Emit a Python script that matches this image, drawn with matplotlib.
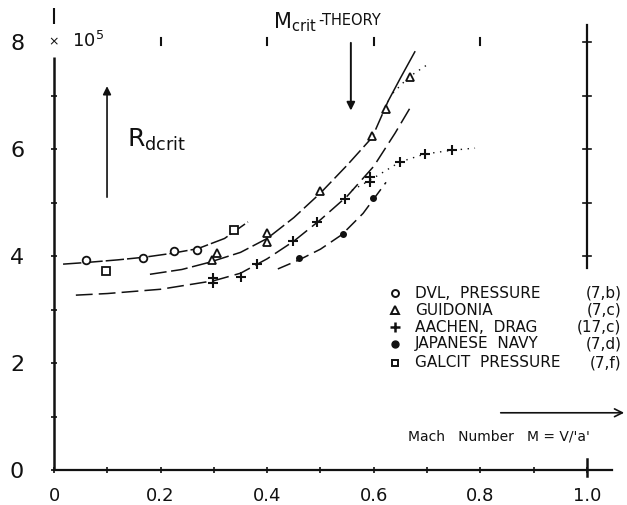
import matplotlib
matplotlib.use("Agg")
import matplotlib.pyplot as plt

# ---- data (Mach number, R_dcrit in 1e5) ----
dvl_m = [0.060, 0.167, 0.225, 0.268]
dvl_r = [3.93, 3.96, 4.09, 4.11]
gui_m = [0.296, 0.306, 0.400, 0.400, 0.500, 0.597, 0.623, 0.668]
gui_r = [3.93, 4.06, 4.43, 4.26, 5.21, 6.24, 6.75, 7.35]
aac_m = [0.298, 0.298, 0.351, 0.381, 0.448, 0.493, 0.546, 0.593, 0.593, 0.649, 0.696, 0.747]
aac_r = [3.59, 3.50, 3.61, 3.85, 4.28, 4.64, 5.07, 5.48, 5.39, 5.76, 5.91, 5.98]
jap_m = [0.460, 0.542, 0.599]
jap_r = [3.96, 4.41, 5.08]
gal_m = [0.098, 0.338]
gal_r = [3.72, 4.49]

# hand-drawn fitted curves
c_dvl_m = [0.017, 0.06, 0.12, 0.17, 0.22, 0.27, 0.32, 0.364]
c_dvl_r = [3.85, 3.88, 3.93, 3.98, 4.05, 4.14, 4.33, 4.64]
c_gui_m = [0.18, 0.24, 0.29, 0.35, 0.40, 0.45, 0.50, 0.55, 0.597, 0.627]
c_gui_r = [3.66, 3.75, 3.88, 4.07, 4.33, 4.72, 5.18, 5.70, 6.22, 6.90]
c_gui2_m = [0.627, 0.65, 0.677]
c_gui2_r = [6.90, 7.33, 7.82]
c_aac_m = [0.041, 0.10, 0.20, 0.30, 0.35, 0.40, 0.45, 0.50, 0.55, 0.60, 0.64, 0.668]
c_aac_r = [3.27, 3.30, 3.38, 3.54, 3.68, 3.95, 4.28, 4.68, 5.12, 5.68, 6.30, 6.77]
c_jap_m = [0.42, 0.46, 0.50, 0.54, 0.58, 0.60, 0.623]
c_jap_r = [3.76, 3.93, 4.13, 4.40, 4.80, 5.07, 5.38]
d_aac_m = [0.559, 0.593, 0.649, 0.696, 0.747, 0.79]
d_aac_r = [5.23, 5.42, 5.76, 5.91, 5.98, 6.02]
d_gui_m = [0.636, 0.666, 0.705]
d_gui_r = [7.05, 7.35, 7.61]

xtick_vals = [0, 0.2, 0.4, 0.6, 0.8, 1.0]
xtick_labels = ["0", "0.2", "0.4", "0.6", "0.8", "1.0"]
ytick_vals = [0, 2, 4, 6, 8]
ytick_labels = ["0", "2", "4", "6", "8"]

legend_names = ["DVL,  PRESSURE", "GUIDONIA", "AACHEN,  DRAG", "JAPANESE  NAVY", "GALCIT  PRESSURE"]
legend_refs = ["(7,b)", "(7,c)", "(17,c)", "(7,d)", "(7,f)"]

plt.rcParams['font.family'] = ['DejaVu Sans']
K = '#111111'

W, H = 627, 505
fig = plt.figure(figsize=(W / 100, H / 100), dpi=100)
x0, y0 = 54, 470
XMAX, YMAX = 1.047, 8.64
ax = fig.add_axes([x0 / W, (H - y0) / H, 558 / W, 462 / H])
ax.set_xlim(0, XMAX)
ax.set_ylim(0, YMAX)
for s in ['top', 'right', 'left']:
    ax.spines[s].set_visible(False)
ax.spines['bottom'].set_linewidth(1.6)
ax.spines['bottom'].set_color(K)

# left axis drawn with a gap for the "x 10^5" label
ax.plot([0, 0], [0, 7.72], color=K, lw=1.8, clip_on=False, solid_capstyle='butt')
ax.plot([0, 0], [8.35, YMAX], color=K, lw=1.5, clip_on=False, solid_capstyle='butt')

ax.set_xticks([i / 10 for i in range(11)])
ax.set_xticklabels([xtick_labels[xtick_vals.index(round(i / 10, 1))] if round(i / 10, 1) in xtick_vals else "" for i in range(11)],
                   fontsize=13)
ax.set_yticks(range(9))
ax.set_yticklabels([ytick_labels[ytick_vals.index(i)] if i in ytick_vals else "" for i in range(9)], fontsize=16)
ax.tick_params(axis='x', direction='inout', length=5, width=1.2, pad=10, colors=K)
ax.tick_params(axis='y', direction='inout', length=5, width=1.2, pad=19, colors=K)
ax.yaxis.get_major_ticks()[8].tick1line.set_visible(False)

# "x 10^5"
ax.text(0, 8, "×", ha='center', va='center', fontsize=9, color=K)
ax.text(0.034, 8.02, "10$^5$", ha='left', va='center', fontsize=13, color=K)

# top tick marks at R = 8
for m in [0.2, 0.4, 0.6, 0.8]:
    ax.plot([m, m], [7.95, 8.07], color=K, lw=1.5, clip_on=False)

# right vertical line at M = 1.0
ax.plot([1.0, 1.0], [3.78, 8.32], color=K, lw=1.6, clip_on=False)
for r in [4, 5, 6, 7, 8]:
    ax.plot([0.993, 1.007], [r, r], color=K, lw=1.2, clip_on=False)
ax.plot([1.0, 1.0], [-0.12, 0.2], color=K, lw=1.8, clip_on=False)

# curves
ax.plot(c_dvl_m, c_dvl_r, color=K, lw=1.1, dashes=(12, 2))
ax.plot(c_gui_m, c_gui_r, color=K, lw=1.1, dashes=(11, 3))
ax.plot(c_gui2_m, c_gui2_r, color=K, lw=1.1)
ax.plot(c_aac_m, c_aac_r, color=K, lw=1.1, dashes=(11, 4))
ax.plot(c_jap_m, c_jap_r, color=K, lw=1.1, dashes=(9, 4))
ax.plot(d_aac_m, d_aac_r, color=K, lw=1.0, dashes=(1, 4))
ax.plot(d_gui_m, d_gui_r, color=K, lw=1.0, dashes=(1, 4))

# markers
ax.plot(dvl_m, dvl_r, 'o', ms=5.5, mfc='white', mec=K, mew=1.3, ls='none')
ax.plot(gui_m, gui_r, '^', ms=6, mfc='white', mec=K, mew=1.3, ls='none')
ax.plot(aac_m, aac_r, '+', ms=7, mec=K, mew=1.5, ls='none')
ax.plot(jap_m, jap_r, 'o', ms=4, mfc=K, mec=K, ls='none')
ax.plot(gal_m, gal_r, 's', ms=5.5, mfc='white', mec=K, mew=1.3, ls='none')

# legend (hand placed)
leg_y = [3.31, 2.99, 2.67, 2.36, 2.01]
leg_marks = [dict(marker='o', ms=5, mfc='white', mec=K, mew=1.4),
             dict(marker='^', ms=6, mfc='white', mec=K, mew=1.4),
             dict(marker='+', ms=7, mec=K, mew=1.8),
             dict(marker='o', ms=5, mfc=K, mec=K),
             dict(marker='s', ms=5, mfc='white', mec=K, mew=1.4)]
for yy, name, ref, mk in zip(leg_y, legend_names, legend_refs, leg_marks):
    ax.plot([0.640], [yy], ls='none', clip_on=False, **mk)
    ax.text(0.677, yy, name, ha='left', va='center', fontsize=11, color=K)
    ax.text(1.065, yy, ref, ha='right', va='center', fontsize=11, color=K, clip_on=False)

# M_crit theory arrow
ax.text(0.411, 8.37, "M$_{\\mathregular{crit}}$", ha='left', va='center', fontsize=15, color=K)
ax.text(0.495, 8.40, "-THEORY", ha='left', va='center', fontsize=10.5, color=K)
ax.annotate("", xy=(0.557, 6.67), xytext=(0.557, 8.04),
            arrowprops=dict(arrowstyle='-|>', color=K, lw=1.4, mutation_scale=12), annotation_clip=False)

# R_dcrit arrow
ax.annotate("", xy=(0.0995, 7.23), xytext=(0.0995, 5.05),
            arrowprops=dict(arrowstyle='-|>', color=K, lw=1.2, mutation_scale=12), annotation_clip=False)
ax.text(0.137, 6.17, "R$_{\\mathregular{dcrit}}$", ha='left', va='center', fontsize=18, color=K)

# Mach number arrow and label
ax.annotate("", xy=(1.075, 1.07), xytext=(0.833, 1.07),
            arrowprops=dict(arrowstyle='->', color=K, lw=1.2, mutation_scale=14), annotation_clip=False)
ax.text(0.664, 0.62, "Mach   Number   M = V/'a'", ha='left', va='center', fontsize=10, color=K)

fig.savefig("out.png", dpi=100)
